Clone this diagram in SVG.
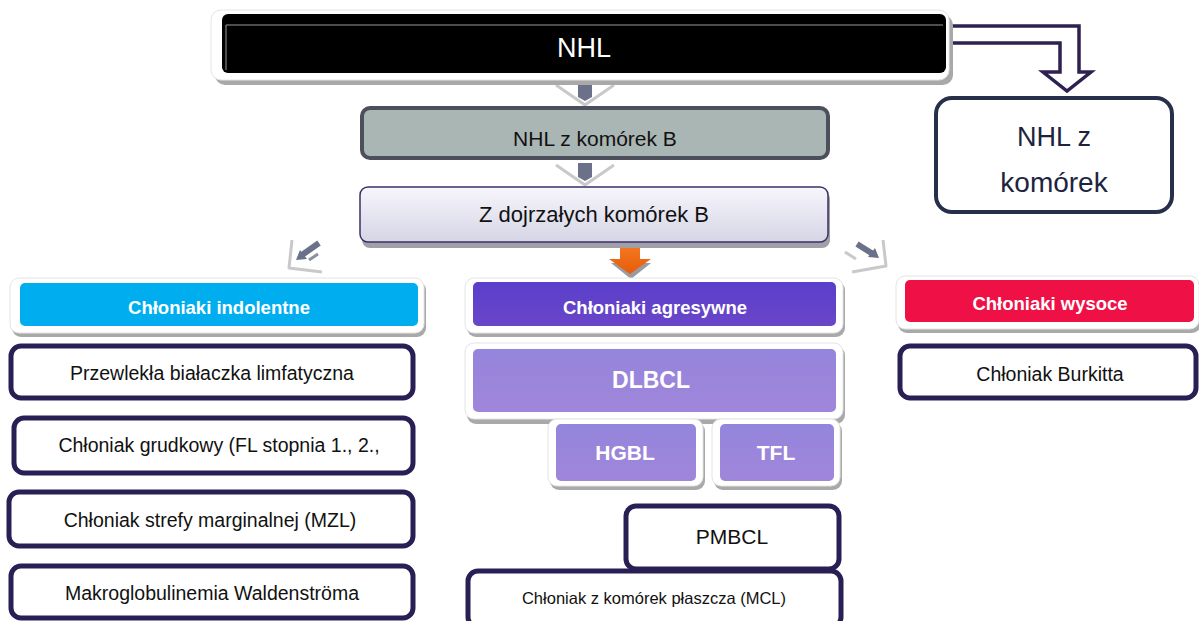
<svg xmlns="http://www.w3.org/2000/svg" width="1199" height="621" viewBox="0 0 1199 621">
<defs>
<linearGradient id="gZ" x1="0" y1="0" x2="0" y2="1"><stop offset="0" stop-color="#f7f6fc"/><stop offset="1" stop-color="#d5d5e6"/></linearGradient>
<linearGradient id="gAgr" x1="0" y1="0" x2="0" y2="1"><stop offset="0" stop-color="#5a3ecb"/><stop offset="1" stop-color="#6a46c8"/></linearGradient>
<linearGradient id="gLav" x1="0" y1="0" x2="0" y2="1"><stop offset="0" stop-color="#9485dc"/><stop offset="1" stop-color="#a086da"/></linearGradient>
<linearGradient id="gOr" x1="0" y1="0" x2="0" y2="1"><stop offset="0" stop-color="#f47a20"/><stop offset="1" stop-color="#e85a0a"/></linearGradient>
</defs>
<style>
text{font-family:"Liberation Sans",Arial,sans-serif;text-anchor:middle}
.lbl{font-size:19.5px;fill:#111}
.hdr{font-size:18.5px;font-weight:bold;fill:#fff}
.wb{font-size:21px;font-weight:bold;fill:#fff}
.box{fill:#fff;stroke:#2a1f55;stroke-width:5}
.frame{fill:#fff;stroke:#e4e4e4;stroke-width:1}
.shadow{fill:#a9a9a9}
.chev{fill:#fff;stroke:#c9c9c9;stroke-width:3;stroke-linejoin:round}
.blk{fill:#6b7188}
</style>
<rect width="1199" height="621" fill="#fff"/>

<g id="connectors">
  <g id="arrow-nhl-b">
    <path class="chev" d="M556 85 L585 105 L614 85"/>
    <path class="blk" d="M578 84 h14 v13 l-7 4 l-7 -4 z"/>
  </g>
  <g id="arrow-b-mature">
    <path class="chev" d="M556 165 L585 185 L614 165"/>
    <path class="blk" d="M578 163 h14 v14 l-7 4 l-7 -4 z"/>
  </g>
  <g id="arrow-orange">
    <path fill="#9a9aa0" d="M611 263 h40 l-20 16 z"/>
    <path fill="url(#gOr)" d="M620 245 h20 v14 h11 l-21 15 l-21 -15 h11 z"/>
  </g>
  <g id="arrow-left">
    <path class="chev" d="M292 240 L289 268 L322 272"/>
    <path fill="none" stroke="#6b7188" stroke-width="6" d="M319 243 L302 255"/>
    <path fill="#6b7188" d="M296 260 L300 250 L307 259 z"/>
    <path fill="none" stroke="#8a8fa0" stroke-width="3" d="M318 254 L309 260"/>
  </g>
  <g id="arrow-right">
    <path class="chev" d="M883 240 L886 266 L852 272"/>
    <path fill="none" stroke="#6b7188" stroke-width="6" d="M857 244 L873 254"/>
    <path fill="#6b7188" d="M879 258 L875 248 L868 257 z"/>
    <path fill="none" stroke="#c9c9c9" stroke-width="3" d="M845 252 L856 259"/>
  </g>
  <g id="arrow-t-cell">
    <path d="M946 26 L1079 26 L1079 72 L1091 72 L1067 91 L1043 72 L1060 72 L1060 43 L946 43" fill="#fff" stroke="#2e2050" stroke-width="3.5" stroke-linejoin="miter"/>
  </g>
</g>

<g id="node-nhl">
  <rect x="214" y="13" width="738" height="70" rx="10" class="shadow" transform="translate(1,2)"/>
  <rect x="211" y="10" width="738" height="70" rx="10" class="frame"/>
  <rect x="222" y="14" width="724" height="59" rx="6" fill="#000"/>
  <line x1="226" y1="25" x2="943" y2="25" stroke="#9a9a9a" stroke-width="1"/>
  <line x1="226" y1="25" x2="226" y2="70" stroke="#9a9a9a" stroke-width="1"/>
  <text x="584" y="57" font-size="27" fill="#fff">NHL</text>
</g>

<g id="node-nhl-t">
  <rect x="936" y="98" width="236" height="114" rx="16" fill="#fff" stroke="#27304a" stroke-width="4"/>
  <text x="1054" y="146" font-size="27" fill="#1c2440">NHL z</text>
  <text x="1054" y="192" font-size="28" fill="#1c2440">komórek</text>
</g>

<g id="node-nhl-b">
  <rect x="362" y="108" width="466" height="50" rx="8" fill="#a9b6b4" stroke="#4c4f5c" stroke-width="4"/>
  <text x="595" y="146" font-size="21" fill="#111">NHL z komórek B</text>
</g>

<g id="node-mature-b">
  <rect x="362" y="189" width="468" height="57" rx="8" fill="#a0a0a8" transform="translate(0,2)"/>
  <rect x="360" y="187" width="468" height="55" rx="8" fill="url(#gZ)" stroke="#3b3165" stroke-width="1.5"/>
  <text x="594" y="222" font-size="22" fill="#111">Z dojrzałych komórek B</text>
</g>

<g id="node-indolent">
  <rect x="12" y="281" width="414" height="56" rx="9" class="shadow"/>
  <rect x="10" y="278" width="414" height="55" rx="9" class="frame"/>
  <rect x="20" y="283" width="398" height="43" rx="5" fill="#00aeef"/>
  <text x="219" y="314" class="hdr">Chłoniaki indolentne</text>
</g>

<g id="node-aggressive">
  <rect x="467" y="281" width="378" height="56" rx="9" class="shadow"/>
  <rect x="465" y="278" width="378" height="55" rx="9" class="frame"/>
  <rect x="473" y="282" width="363" height="44" rx="5" fill="url(#gAgr)"/>
  <text x="655" y="314" class="hdr">Chłoniaki agresywne</text>
</g>

<g id="node-high">
  <rect x="898" y="279" width="303" height="54" rx="9" class="shadow"/>
  <rect x="896" y="276" width="303" height="53" rx="9" class="frame"/>
  <rect x="905" y="280" width="289" height="42" rx="5" fill="#ef1145"/>
  <text x="1050" y="310" class="hdr">Chłoniaki wysoce</text>
</g>

<g id="node-cll">
  <rect x="11" y="346" width="402" height="52" rx="10" class="box"/>
  <text x="212" y="380" class="lbl">Przewlekła białaczka limfatyczna</text>
</g>
<g id="node-fl">
  <rect x="14" y="418" width="399" height="55" rx="10" class="box"/>
  <text x="219" y="452" class="lbl">Chłoniak grudkowy (FL stopnia 1., 2.,</text>
</g>
<g id="node-mzl">
  <rect x="9" y="492" width="404" height="54" rx="10" class="box"/>
  <text x="210" y="527" class="lbl">Chłoniak strefy marginalnej (MZL)</text>
</g>
<g id="node-wm">
  <rect x="11" y="566" width="402" height="52" rx="10" class="box"/>
  <text x="212" y="600" class="lbl">Makroglobulinemia Waldenströma</text>
</g>

<g id="node-dlbcl">
  <rect x="467" y="346" width="378" height="78" rx="9" class="shadow"/>
  <rect x="465" y="343" width="378" height="76" rx="9" class="frame"/>
  <rect x="473" y="349" width="363" height="63" rx="5" fill="url(#gLav)"/>
  <text x="651" y="388" font-size="23" font-weight="bold" fill="#fff">DLBCL</text>
</g>
<g id="node-hgbl">
  <rect x="550" y="422" width="155" height="68" rx="9" class="shadow"/>
  <rect x="548" y="419" width="155" height="67" rx="9" class="frame"/>
  <rect x="556" y="424" width="140" height="57" rx="5" fill="url(#gLav)"/>
  <text x="625" y="460" class="wb">HGBL</text>
</g>
<g id="node-tfl">
  <rect x="714" y="422" width="128" height="68" rx="9" class="shadow"/>
  <rect x="712" y="419" width="128" height="67" rx="9" class="frame"/>
  <rect x="720" y="424" width="114" height="57" rx="5" fill="url(#gLav)"/>
  <text x="776" y="460" class="wb">TFL</text>
</g>

<g id="node-pmbcl">
  <rect x="626" y="506" width="213" height="63" rx="10" class="box"/>
  <text x="732" y="544" font-size="21" fill="#111">PMBCL</text>
</g>
<g id="node-mcl">
  <rect x="468" y="571" width="373" height="56" rx="10" class="box"/>
  <text x="654" y="604" font-size="16.5" fill="#111">Chłoniak z komórek płaszcza (MCL)</text>
</g>

<g id="node-burkitt">
  <rect x="900" y="346" width="296" height="52" rx="10" class="box"/>
  <text x="1050" y="381" class="lbl">Chłoniak Burkitta</text>
</g>
</svg>
